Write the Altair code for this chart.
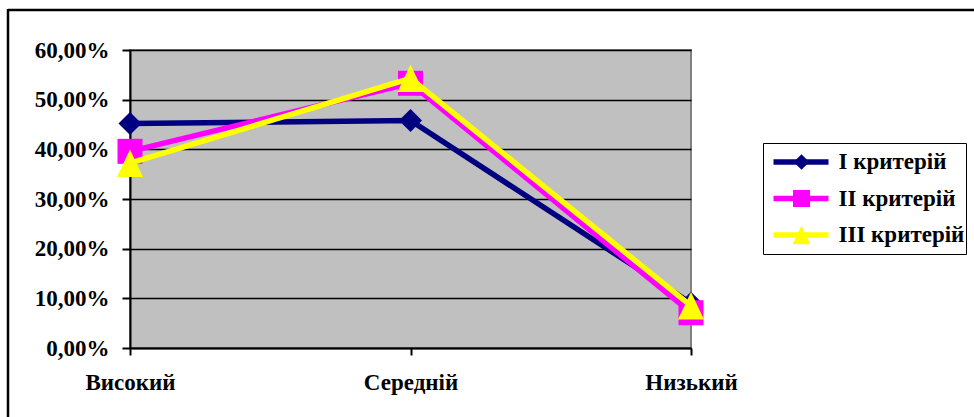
import altair as alt
import pandas as pd

# Levels on the x axis and the three criteria series (shares, 0..1)
levels = ["Високий", "Середній", "Низький"]
series_names = ["I критерій", "II критерій", "III критерій"]
crit_1 = [0.452, 0.458, 0.090]
crit_2 = [0.396, 0.533, 0.071]
crit_3 = [0.372, 0.543, 0.085]
y_ticks = [0.0, 0.1, 0.2, 0.3, 0.4, 0.5, 0.6]

line_colors = ["#000080", "#FF00FF", "#FFFF00"]
# marker outlines, normalised to [-1, 1] and scaled by the point size
marker_paths = [
    "M0,-0.92L0.92,0L0,0.92L-0.92,0Z",
    "M-1,-1H1V1H-1Z",
    "M0,-1.1L1.04,1.1L-1.04,1.1Z",
]

rows = []
for name, vals in zip(series_names, [crit_1, crit_2, crit_3]):
    for lvl, v in zip(levels, vals):
        rows.append({"level": lvl, "series": name, "marker": name, "value": v})
df = pd.DataFrame(rows)

FONT = "Liberation Serif"
FS = 23
W, H = 561, 298

x_enc = alt.X(
    "level:N",
    sort=levels,
    scale=alt.Scale(type="point", padding=0),
    axis=alt.Axis(
        title=None, labelAngle=0, grid=False,
        domainColor="black", domainWidth=2,
        tickColor="black", tickWidth=2, tickSize=7,
        labelFont=FONT, labelFontSize=FS, labelFontWeight="bold",
        labelColor="black", labelPadding=16,
    ),
)
y_enc = alt.Y(
    "value:Q",
    scale=alt.Scale(domain=[0, 0.6], nice=False),
    axis=alt.Axis(
        title=None, values=y_ticks,
        labelExpr="replace(format(datum.value, '.2%'), '.', ',')",
        domainColor="black", domainWidth=2,
        tickColor="black", tickWidth=2, tickSize=8,
        gridColor="black", gridWidth=1.5,
        labelFont=FONT, labelFontSize=FS, labelFontWeight="bold",
        labelColor="black", labelPadding=13,
    ),
)

# line legend: box, stroke symbols and labels
color_enc = alt.Color(
    "series:N",
    scale=alt.Scale(domain=series_names, range=line_colors),
    legend=alt.Legend(
        title=None, orient="none", legendX=633, legendY=93,
        strokeColor="black", fillColor="white", padding=1,
        symbolType="stroke", symbolSize=3025, symbolStrokeWidth=5.5,
        symbolOffset=6.5, clipHeight=36, rowPadding=0.5,
        labelFont=FONT, labelFontSize=FS, labelFontWeight="bold",
        labelColor="black", labelOffset=7, zindex=1,
    ),
)
# marker legend (symbols only) drawn over the middle of each stroke symbol
marker_legend = alt.Legend(
    title=None, orient="none", legendX=659, legendY=93,
    padding=1, symbolSize=289, symbolStrokeWidth=0,
    clipHeight=36, rowPadding=0.5,
    labelFont=FONT, labelFontSize=FS, labelExpr="''", zindex=2,
)
fill_enc = alt.Fill(
    "marker:N",
    scale=alt.Scale(range=line_colors),
    legend=marker_legend,
)
shape_enc = alt.Shape(
    "marker:N",
    scale=alt.Scale(range=marker_paths),
    legend=marker_legend,
)

base = alt.Chart(df)
layers = []
for name in series_names:
    sub = base.transform_filter(alt.datum.series == name)
    layers.append(
        sub.mark_line(strokeWidth=5.5).encode(x=x_enc, y=y_enc, color=color_enc)
    )
    layers.append(
        sub.mark_point(filled=True, size=625, strokeWidth=0, opacity=1).encode(
            x=x_enc, y=y_enc, fill=fill_enc, shape=shape_enc
        )
    )

# outer chart-area frame (top and left edges)
frame_src = alt.Chart(pd.DataFrame({"k": [0]}))
frame_top = frame_src.mark_rule(color="black", strokeWidth=2.5).encode(
    x=alt.value(-122), x2=alt.value(860), y=alt.value(-40)
)
frame_left = frame_src.mark_rule(color="black", strokeWidth=2.5).encode(
    x=alt.value(-122), y=alt.value(-41), y2=alt.value(380)
)

chart = (
    alt.layer(*layers, frame_top, frame_left)
    .properties(
        width=W, height=H,
        autosize=alt.AutoSizeParams(type="none"),
        padding={"left": 130, "top": 50, "right": 974 - 130 - W, "bottom": 417 - 50 - H},
        background="white",
    )
    .configure_view(fill="#C0C0C0", stroke="#808080", strokeWidth=2)
)

chart.save("out.html", embed_options={"renderer": "svg", "actions": False})
